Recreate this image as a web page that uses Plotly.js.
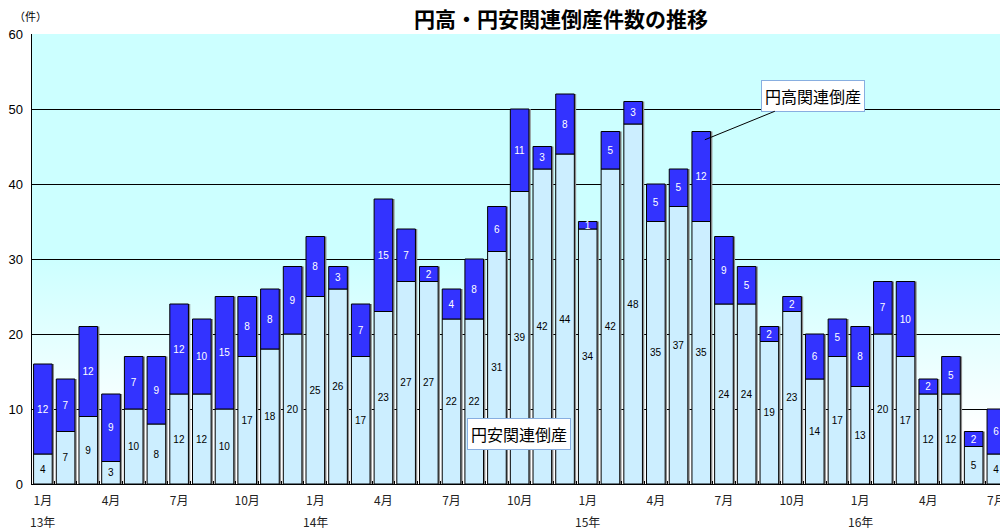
<!DOCTYPE html>
<html>
<head>
<meta charset="utf-8">
<script src="https://cdn.plot.ly/plotly-3.0.1.min.js"></script>
<style>
html,body{margin:0;padding:0;background:#fff;}
#chart{width:1000px;height:530px;}
</style>
</head>
<body>
<div id="chart"></div>
<script>
// 2013年1月 〜 2016年7月
const months = ["13/1","13/2","13/3","13/4","13/5","13/6","13/7","13/8","13/9","13/10","13/11","13/12",
  "14/1","14/2","14/3","14/4","14/5","14/6","14/7","14/8","14/9","14/10","14/11","14/12",
  "15/1","15/2","15/3","15/4","15/5","15/6","15/7","15/8","15/9","15/10","15/11","15/12",
  "16/1","16/2","16/3","16/4","16/5","16/6","16/7"];
const yenYasu = [4,7,9,3,10,8,12,12,10,17,18,20,25,26,17,23,27,27,22,22,31,39,42,44,34,42,48,35,37,35,24,24,19,23,14,17,13,20,17,12,12,5,4];
const yenDaka = [12,7,12,9,7,9,12,10,15,8,8,9,8,3,7,15,7,2,4,8,6,11,3,8,1,5,3,5,5,12,9,5,2,2,6,5,8,7,10,2,5,2,6];
const tickPos = [0,3,6,9,12,15,18,21,24,27,30,33,36,39,42];
const tickLabels = ["1月","4月","7月","10月","1月","4月","7月","10月","1月","4月","7月","10月","1月","4月","7月"];
const yearPos = [0,12,24,36];
const yearLabels = ["13年","14年","15年","16年"];

const idx = months.map((_, i) => i);
const totals = yenYasu.map((v, i) => v + yenDaka[i]);
const W = 0.82;

const shadow = {
  type: 'bar', x: idx, y: totals, base: 0, width: W, offset: -W/2 + 0.08,
  marker: {color: '#8c8c8c', line: {width: 0}}, hoverinfo: 'skip', showlegend: false
};
const lower = {
  type: 'bar', name: '円安関連倒産', x: idx, y: yenYasu, base: 0, width: W,
  marker: {color: '#CCEEFF', line: {color: '#000', width: 1}},
  text: yenYasu.map(String), textposition: 'inside', insidetextanchor: 'middle',
  textangle: 0, constraintext: 'none',
  insidetextfont: {size: 10, color: '#000', family: 'Arial, Liberation Sans, sans-serif'},
  hoverinfo: 'skip', showlegend: false
};
const upper = {
  type: 'bar', name: '円高関連倒産', x: idx, y: yenDaka, base: yenYasu, width: W,
  marker: {color: '#3333FF', line: {color: '#000', width: 1}},
  text: yenDaka.map(String), textposition: 'inside', insidetextanchor: 'middle',
  textangle: 0, constraintext: 'none',
  insidetextfont: {size: 10, color: '#fff', family: 'Arial, Liberation Sans, sans-serif'},
  hoverinfo: 'skip', showlegend: false
};

const grad = 'data:image/svg+xml;charset=utf-8,' + encodeURIComponent(
  '<svg xmlns="http://www.w3.org/2000/svg" width="100" height="100" preserveAspectRatio="none">' +
  '<defs><linearGradient id="g" x1="0" y1="0" x2="0" y2="1">' +
  '<stop offset="0" stop-color="#CCFFFF"/><stop offset="0.5" stop-color="#CCFFFF"/>' +
  '<stop offset="0.88" stop-color="#FFFFFF"/><stop offset="1" stop-color="#FFFFFF"/>' +
  '</linearGradient></defs><rect width="100" height="100" fill="url(#g)"/></svg>');

const jp = '"Noto Sans CJK JP", "Noto Sans", sans-serif';

const yearAnn = yearPos.map((p, i) => ({
  text: yearLabels[i], xref: 'x', yref: 'paper', x: p, y: -0.083, xanchor: 'center', yanchor: 'middle',
  showarrow: false, font: {family: jp, size: 12, color: '#222'}
}));

const layout = {
  width: 1000, height: 530,
  margin: {l: 32, r: 0, t: 34, b: 46, pad: 0},
  paper_bgcolor: '#fff', plot_bgcolor: 'rgba(0,0,0,0)',
  barmode: 'overlay',
  uniformtext: {minsize: 10, mode: 'show'},
  title: {text: '<b>円高・円安関連倒産件数の推移</b>', x: 0.561, xref: 'container', xanchor: 'center',
          y: 0.962, yref: 'container', yanchor: 'middle',
          font: {family: jp, size: 21, color: '#000'}},
  images: [{source: grad, xref: 'paper', yref: 'paper', x: 0, y: 1, sizex: 1, sizey: 1,
            sizing: 'stretch', layer: 'below', xanchor: 'left', yanchor: 'top'}],
  xaxis: {
    range: [-0.48, 42.16], tickmode: 'array', tickvals: tickPos, ticktext: tickLabels,
    ticks: '', showgrid: false, zeroline: false, ticklabeloverflow: 'allow',
    showline: true, linecolor: '#000', linewidth: 1, ticklabelstandoff: 6,
    tickfont: {family: jp, size: 12, color: '#222'},
    minor: {tickmode: 'linear', tick0: 0.5, dtick: 1, ticks: 'inside', ticklen: 3, tickcolor: '#000', showgrid: false}
  },
  yaxis: {
    range: [0, 60], tickvals: [0,10,20,30,40,50,60], ticks: '',
    showgrid: true, gridcolor: '#000', gridwidth: 1, zeroline: false,
    showline: true, linecolor: '#000', linewidth: 1.5,
    tickfont: {family: 'Arial, Liberation Sans, sans-serif', size: 13, color: '#000'},
    ticklabelstandoff: 5
  },
  annotations: [
    {text: '（件）', xref: 'paper', yref: 'paper', x: -0.002, y: 1.04, xanchor: 'center', yanchor: 'middle',
     showarrow: false, font: {family: jp, size: 11, color: '#000'}},
    {text: '円高関連倒産', xref: 'x', yref: 'y', x: 29.16, y: 45.9, ax: 108, ay: -44,
     showarrow: true, arrowhead: 0, arrowwidth: 1, arrowcolor: '#000',
     bgcolor: '#fff', bordercolor: '#88AEE0', borderwidth: 1, borderpad: 3,
     font: {family: jp, size: 16, color: '#000'}},
    {text: '円安関連倒産', xref: 'x', yref: 'y', x: 20.97, y: 6.67, showarrow: false,
     bgcolor: '#fff', bordercolor: '#88AEE0', borderwidth: 1, borderpad: 3,
     font: {family: jp, size: 16, color: '#000'}}
  ].concat(yearAnn)
};

Plotly.newPlot('chart', [shadow, lower, upper], layout, {displayModeBar: false, staticPlot: true});
</script>
</body>
</html>
